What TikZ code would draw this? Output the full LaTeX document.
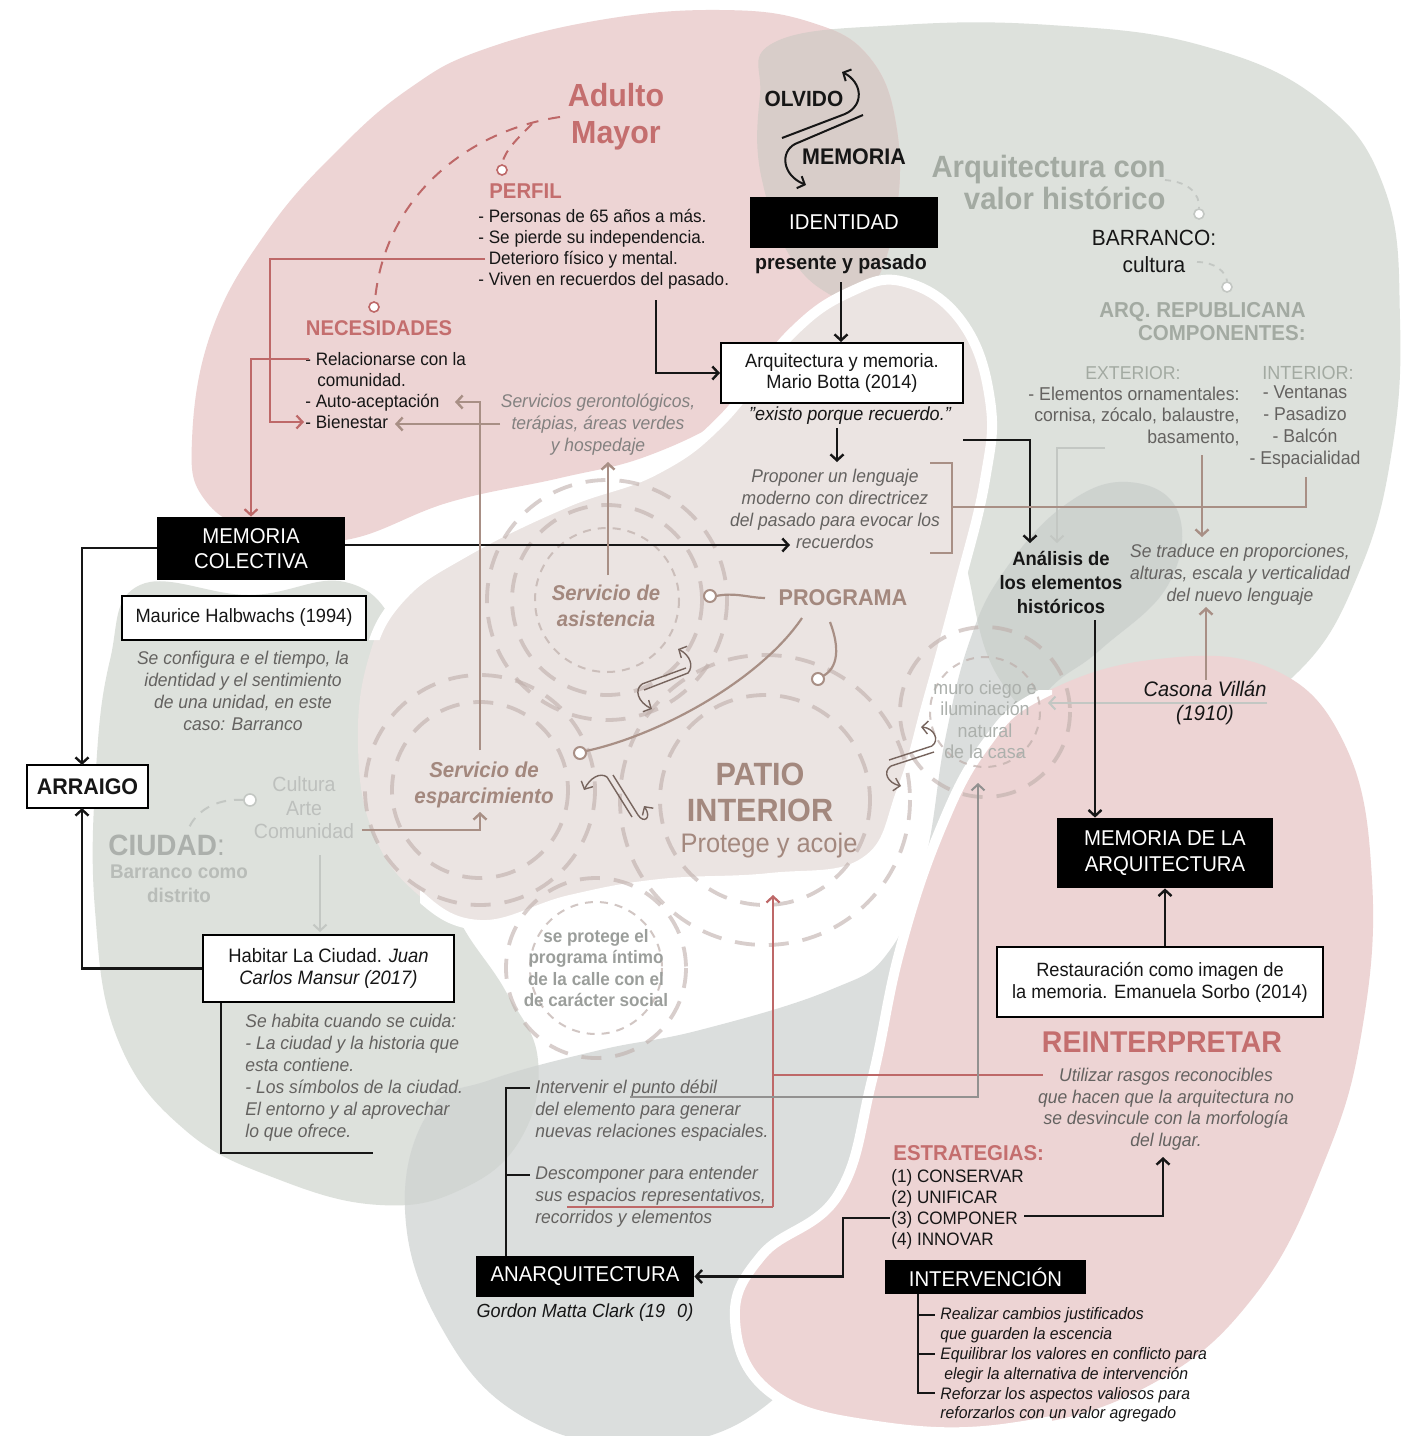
\documentclass[tikz,border=0pt]{standalone}
\usepackage{fontspec}
\setmainfont{Liberation Sans}[FakeStretch=0.95]
\usetikzlibrary{arrows.meta}
\definecolor{pinkbg}{RGB}{237,212,212}
\definecolor{greenbg}{RGB}{221,225,220}
\definecolor{patiobg}{RGB}{235,228,226}
\definecolor{greybg}{RGB}{219,222,221}
\definecolor{lensAB}{RGB}{216,205,201}
\definecolor{lensDB}{RGB}{206,211,207}
\definecolor{lensDE}{RGB}{210,214,211}
\definecolor{inkc}{RGB}{22,22,22}
\definecolor{redt}{RGB}{196,110,110}
\definecolor{greent}{RGB}{163,170,162}
\definecolor{brownt}{RGB}{163,136,126}
\definecolor{greyt}{RGB}{100,98,96}
\definecolor{paleg}{RGB}{172,176,172}
\definecolor{brownl}{RGB}{168,143,133}
\definecolor{redl}{RGB}{190,104,104}
\definecolor{ltl}{RGB}{195,199,195}
\definecolor{ringc}{RGB}{190,174,170}
\newcommand\myfs[2]{\fontsize{#1}{#2}\selectfont}
\def\blobA{plot[smooth cycle,tension=0.7] coordinates{(482,50) (600,20) (720,10) (810,22) (870,58) (897,130) (895,220) (868,295) (810,355) (740,410) (650,455) (560,478) (450,502) (345,540) (260,532) (205,500) (192,440) (212,330) (268,230) (340,148) (410,88)}}
\def\blobB{plot[smooth cycle,tension=0.7] coordinates{(775,42) (900,25) (1050,25) (1200,45) (1320,100) (1385,190) (1400,320) (1392,450) (1360,570) (1300,670) (1200,730) (1080,740) (1000,680) (965,560) (940,430) (880,330) (800,270) (762,180) (760,95)}}
\def\blobE{plot[smooth cycle,tension=0.7] coordinates{(140,585) (250,595) (345,582) (398,630) (425,720) (438,820) (455,910) (505,990) (538,1060) (520,1140) (460,1190) (380,1205) (280,1180) (185,1130) (118,1040) (95,910) (96,770) (110,660)}}
\def\blobD{plot[smooth cycle,tension=0.7] coordinates{(1128,482) (1178,512) (1168,585) (1100,650) (1040,700) (985,800) (950,910) (910,1030) (880,1160) (840,1300) (760,1410) (640,1445) (520,1415) (440,1325) (405,1210) (430,1110) (490,1080) (600,1050) (700,1030) (830,990) (890,950) (925,860) (945,740) (970,640) (1005,570) (1065,505)}}
\def\blobC{plot[smooth cycle,tension=0.7] coordinates{(1040,695) (1150,660) (1270,668) (1345,745) (1372,880) (1362,1030) (1325,1160) (1255,1295) (1150,1385) (1010,1428) (870,1425) (770,1392) (735,1320) (762,1255) (838,1195) (872,1080) (900,950) (940,830) (985,745)}}
\def\blobF{plot[smooth cycle,tension=0.7] coordinates{(905,282) (962,322) (990,400) (985,480) (958,590) (928,700) (902,790) (865,862) (770,878) (660,884) (570,900) (480,925) (415,892) (372,830) (358,745) (368,660) (400,598) (465,552) (565,503) (655,470) (722,420) (790,335) (850,292)}}
\begin{document}
\begin{tikzpicture}[x=0.5pt,y=-0.5pt,
  every node/.style={inner sep=0pt,align=center,text=inkc},
  body/.style={font=\myfs{9}{10.5}},
  ital/.style={font=\myfs{9.2}{11}\itshape,text=greyt},
  blk/.style={fill=black,text=white,font=\myfs{10.7}{12.5}},
  wbox/.style={draw=black,line width=1pt,fill=white},
  conn/.style={draw=inkc,line width=1.2pt},
  brn/.style={draw=brownl,line width=1.2pt},
  redc/.style={draw=redl,line width=1.1pt},
  palec/.style={draw=ltl,line width=1pt},
  arr/.style={-{Straight Barb[length=3pt,width=6.5pt]}},
  ring/.style={draw=ringc,line width=1.9pt,dash pattern=on 10pt off 7pt,draw opacity=0.6},
  ringt/.style={draw=ringc,line width=1pt,dash pattern=on 4pt off 3.5pt,draw opacity=0.7},
  dot/.style={fill=white,line width=0.8pt},
  swp/.style={draw=brownl!70!black,line width=0.7pt},
]
\useasboundingbox (0,0) rectangle (1415,1436);
\fill[white] (0,0) rectangle (1415,1436);
% ---------- background blobs
\fill[greenbg] \blobB;
\fill[pinkbg] \blobA;
\begin{scope}\clip \blobB; \fill[lensAB] \blobA; \end{scope}
\fill[greenbg] \blobE;
\fill[greybg] \blobD;
\begin{scope}\clip \blobD; \fill[lensDE] \blobE; \fill[lensDB] \blobB; \end{scope}
\fill[pinkbg] \blobC;
\begin{scope}\clip (0,690) rectangle (1052,1436); \draw[white,line width=5pt] \blobC; \end{scope}
\fill[patiobg] \blobF;
\begin{scope}\clip (0,0) -- (1415,0) -- (1415,1436) -- (420,1436) -- (420,640) -- (0,640) -- cycle;
\draw[white,line width=5pt] \blobF; \end{scope}
% ---------- dashed rings
\draw[ring] (607,600) circle[radius=95];
\draw[ring] (607,600) circle[radius=120];
\draw[ringt] (607,600) circle[radius=72];
\draw[ring] (480,790) circle[radius=88];
\draw[ring] (480,790) circle[radius=115];
\draw[ring] (765,800) circle[radius=105];
\draw[ring] (765,800) circle[radius=145];
\draw[ring] (985,712) circle[radius=85];
\draw[ringt] (985,712) circle[radius=55];
\draw[ring] (596,968) circle[radius=90];
\draw[ringt] (596,968) circle[radius=66];
% ---------- titles and texts
\node[font=\bfseries\myfs{16}{18.5},text=redt] (adulto) at (616,117) {Adulto\\Mayor};
\node[font=\bfseries\myfs{10.7}{12},text=redt,anchor=west] (perfil) at (489,191) {PERFIL};
\node[body,align=left,anchor=west] (perfillist) at (478,249) {- Personas de 65 años a más.\\- Se pierde su independencia.\\- Deterioro físico y mental.\\- Viven en recuerdos del pasado.};
\node[font=\bfseries\myfs{10.65}{12},text=redt] (neces) at (379,328) {NECESIDADES};
\node[body,align=left,anchor=west] (neceslist) at (305,391) {- Relacionarse con la\\\hspace*{6pt}comunidad.\\- Auto-aceptación\\- Bienestar};
\node[font=\bfseries\myfs{11}{12}] (olvido) at (804,99) {OLVIDO};
\node[font=\bfseries\myfs{11.3}{12}] (memoria) at (854,157) {MEMORIA};
\node[blk,minimum width=94pt,minimum height=25.5pt] (ident) at (844,222) {IDENTIDAD};
\node[font=\bfseries\myfs{10.3}{12}] (ppas) at (841,264) {presente y pasado};
\node[font=\bfseries\myfs{15.4}{16},text=greent,align=right,anchor=east] (arqval) at (1166,182) {Arquitectura con\\valor histórico};
\node[font=\myfs{11}{13.5}] (barranco) at (1154,251) {BARRANCO:\\cultura};
\node[font=\bfseries\myfs{10.8}{11.5},text=greent,align=right,anchor=east] (arqrep) at (1306,322) {ARQ. REPUBLICANA\\COMPONENTES:};
\node[font=\myfs{9.3}{10.5},text=greent] (ext) at (1133,373) {EXTERIOR:};
\node[font=\myfs{9.3}{10.75},text=greyt,align=right,anchor=east] (extlist) at (1240,416) {- Elementos ornamentales:\\cornisa, zócalo, balaustre,\\basamento,};
\node[font=\myfs{9.5}{10.5},text=greent] (int) at (1308,373) {INTERIOR:};
\node[font=\myfs{9.3}{11},text=greyt] (intlist) at (1305,427) {- Ventanas\\- Pasadizo\\- Balcón\\- Espacialidad};
\node[wbox,font=\myfs{9.6}{10.5},minimum width=121pt,minimum height=30pt] (botta) at (842,373) {Arquitectura y memoria.\\Mario Botta (2014)};
\node[font=\myfs{9.5}{11}\itshape] (existo) at (850,416) {"existo porque recuerdo."};
\node[ital] (proponer) at (835,509) {Proponer un lenguaje\\moderno con directricez\\del pasado para evocar los\\recuerdos};
\node[ital,text=greyt!80] (servicios) at (598,425) {Servicios gerontológicos,\\terápias, áreas verdes\\y hospedaje};
\node[blk,minimum width=94pt,minimum height=31.5pt] (memcol) at (251,548.5) {MEMORIA\\COLECTIVA};
\node[wbox,font=\myfs{9.6}{10.5},minimum width=122pt,minimum height=22pt] (halb) at (244,618) {Maurice Halbwachs (1994)};
\node[ital] (config) at (243,690.5) {Se configura e el tiempo, la\\identidad y el sentimiento\\de una unidad, en este\\caso: Barranco};
\node[wbox,line width=1.2pt,font=\bfseries\myfs{11.3}{13},minimum width=60.5pt,minimum height=21.5pt] (arraigo) at (87.5,786.5) {ARRAIGO};
\node[font=\myfs{10.3}{11.75},text=paleg!80] (cultura) at (304,808) {Cultura\\Arte\\Comunidad};
\node[font=\bfseries\myfs{14.7}{16},text=paleg,anchor=west] (ciudad) at (108,845) {CIUDAD\textmd{:}};
\node[font=\bfseries\myfs{9.9}{12},text=paleg!85] (barrdist) at (179,884) {Barranco como\\distrito};
\node[wbox,line width=1.2pt,font=\myfs{9.7}{11},minimum width=125.5pt,minimum height=33.5pt] (habitar) at (328.5,968.5) {Habitar La Ciudad. \textit{Juan}\\\textit{Carlos Mansur (2017)}};
\node[ital,align=left,anchor=west] (sehabita) at (245,1078) {Se habita cuando se cuida:\\- La ciudad y la historia que\\esta contiene.\\- Los símbolos de la ciudad.\\El entorno y al aprovechar\\lo que ofrece.};
\node[font=\bfseries\itshape\myfs{10.7}{13},text=brownt] (asist) at (606,606) {Servicio de\\asistencia};
\node[font=\bfseries\myfs{11.4}{13},text=brownt] (programa) at (843,598) {PROGRAMA};
\node[font=\bfseries\itshape\myfs{10.8}{13},text=brownt] (esparc) at (484,785) {Servicio de\\esparcimiento};
\node[font=\bfseries\myfs{16.1}{18},text=brownt] (patio) at (760,792) {PATIO\\INTERIOR};
\node[font=\myfs{13.4}{15},text=brownt] (protege) at (769,846) {Protege y acoje};
\node[font=\myfs{9.4}{10.75},text=paleg] (muro) at (985,720) {muro ciego e\\iluminación\\natural\\de la casa};
\node[font=\bfseries\myfs{9}{10.75},text=paleg!90!black] (seprot) at (596,968) {se protege el\\programa íntimo\\de la calle con el\\de carácter social};
\node[font=\bfseries\myfs{9.7}{12}] (analisis) at (1061,582) {Análisis de\\los elementos\\históricos};
\node[ital] (traduce) at (1240,575) {Se traduce en proporciones,\\alturas, escala y verticalidad\\del nuevo lenguaje};
\node[font=\myfs{10.5}{12}\itshape] (casona) at (1205,703) {Casona Villán\\(1910)};
\node[blk,minimum width=108pt,minimum height=35pt,font=\myfs{10.7}{13}] (memarq) at (1165,853) {MEMORIA DE LA\\ARQUITECTURA};
\node[wbox,line width=1.2pt,font=\myfs{9.6}{11},minimum width=163pt,minimum height=35pt] (resta) at (1160,982) {Restauración como imagen de\\la memoria. Emanuela Sorbo (2014)};
\node[font=\bfseries\myfs{15}{16},text=redt] (reint) at (1162,1042) {REINTERPRETAR};
\node[ital,font=\myfs{9.2}{10.75}\itshape] (utilizar) at (1166,1109) {Utilizar rasgos reconocibles\\que hacen que la arquitectura no\\se desvincule con la morfología\\del lugar.};
\node[font=\bfseries\myfs{10.75}{12},text=redt,anchor=west] (estrat) at (893,1153) {ESTRATEGIAS:};
\node[body,align=left,anchor=west] (estlist) at (891,1209) {(1) CONSERVAR\\(2) UNIFICAR\\(3) COMPONER\\(4) INNOVAR};
\node[blk,minimum width=100.5pt,minimum height=17pt] (interv) at (985.5,1277) {INTERVENCIÓN};
\node[font=\myfs{8.3}{9.9}\itshape,align=left,anchor=west] (intlist2) at (940,1365) {Realizar cambios justificados\\que guarden la escencia\\Equilibrar los valores en conflicto para\\\hspace*{2pt}elegir la alternativa de intervención\\Reforzar los aspectos valiosos para\\reforzarlos con un valor agregado};
\node[blk,minimum width=109pt,minimum height=20.5pt] (anarq) at (585,1276.5) {ANARQUITECTURA};
\node[font=\myfs{9.5}{11}\itshape] (gordon) at (585,1313) {Gordon Matta Clark (19\hspace{6pt}0)};
\node[ital,align=left,anchor=west] (intervenir) at (535,1111) {Intervenir el punto débil\\del elemento para generar\\nuevas relaciones espaciales.};
\node[ital,align=left,anchor=west] (descomp) at (535,1197) {Descomponer para entender\\sus espacios representativos,\\recorridos y elementos};
% ---------- connector end points
\coordinate (det) at (485,259);
\coordinate (bien) at (304,422);
\coordinate (rel) at (309,359);
\coordinate (viv) at (656,300);
\coordinate (exb) at (837,428);
\coordinate (prt) at (837,462);
\coordinate (botr) at (963,440);
\coordinate (ant) at (1030,543);
\coordinate (grs) at (1105,448);
\coordinate (grt) at (1057,543);
\coordinate (rec) at (790,545);
\coordinate (arrt) at (82,765);
\coordinate (arrb) at (82,808);
\coordinate (auto) at (455,402);
\coordinate (bien2) at (395,424);
\coordinate (serv) at (500,424);
\coordinate (espt) at (480,750);
\coordinate (asb) at (608,575);
\coordinate (hosp) at (608,462);
\coordinate (comu) at (362,830);
\coordinate (espb) at (480,812);
\coordinate (cult) at (320,855);
\coordinate (habt) at (320,932);
\coordinate (basa) at (1202,455);
\coordinate (trt) at (1202,537);
\coordinate (espa) at (1306,477);
\coordinate (casu) at (1206,680);
\coordinate (trb) at (1206,607);
\coordinate (casl) at (1267,703);
\coordinate (murr) at (1048,703);
\coordinate (anb) at (1095,620);
\coordinate (utl) at (1043,1075);
\coordinate (pati) at (773,895);
\coordinate (repr) at (567,1207);
\coordinate (punt) at (630,1097);
\coordinate (murb) at (978,783);
\coordinate (compl) at (890,1218);
\coordinate (compr) at (1024,1216);
\coordinate (lugar) at (1163,1157);
% ---------- connectors
\draw[redc,arr] (det) -- (270,259) -- (270,422) -- (bien);
\draw[redc,arr] (rel) -| (memcol.north);
\draw[conn,arr] (viv) |- (botta.west);
\draw[conn,arr] (ppas.south |- 0,282) -- (ppas.south |- botta.north);
\draw[conn,arr] (exb) -- (prt);
\draw[conn,arr] (botr) -| (ant);
\draw[palec,arr] (grs) -| (grt);
\draw[conn,arr] (memcol.east |- rec) -- (rec);
\draw[conn,arr] (memcol.west |- 0,548) -| (arrt);
\draw[conn,arr] (habitar.west) -| (arrb);
\draw[brn,arr] (espt) -- (480,402) -- (auto);
\draw[brn,arr] (serv) -- (bien2);
\draw[brn,arr] (asb) -- (hosp);
\draw[brn,arr] (comu) -| (espb);
\draw[palec,arr] (cult) -- (habt);
\draw[brn] (930,463) -- (952,463) -- (952,553) -- (930,553);
\draw[brn] (952,507) -| (espa);
\draw[brn,arr] (basa) -- (trt);
\draw[brn,arr] (casu) -- (trb);
\draw[palec,arr] (casl) -- (murr);
\draw[conn,arr] (anb) -- (anb |- memarq.north);
\draw[conn,arr] (resta.north -| memarq.south) -- (memarq.south);
\draw[redc,arr] (773,1207) -- (pati);
\draw[redc] (repr) -- (773,1207);
\draw[redc] (773,1075) -- (utl);
\draw[draw=greyt!70,line width=1pt,arr] (punt) -| (murb);
\draw[conn] (anarq.north -| 506,0) -- (506,1088) -- (530,1088);
\draw[conn] (506,1175) -- (530,1175);
\draw[conn,arr] (compl) -- (843,1218) |- (anarq.east);
\draw[conn,arr] (compr) -| (lugar);
\draw[conn] (interv.south -| 918,0) -- (918,1393) -- (935,1393);
\draw[conn] (918,1315) -- (935,1315);
\draw[conn] (918,1354) -- (935,1354);
\draw[conn] (habitar.south -| 221,0) -- (221,1153) -- (373,1153);
% ---------- dashed leaders
\draw[redl,line width=1pt,dash pattern=on 6pt off 5pt] (560,117) .. controls (470,130) and (385,195) .. (375,300);
\draw[redl,line width=1pt,dash pattern=on 5pt off 4pt] (532,124) .. controls (518,138) and (505,150) .. (502,164);
\draw[redl,dot] (374,307) circle[radius=5];
\draw[redl,dot] (502,170) circle[radius=5];
\draw[ltl,line width=0.9pt,dash pattern=on 3pt off 3pt] (1165,180) .. controls (1190,182) and (1200,195) .. (1199,208);
\draw[ltl,dot] (1199,214) circle[radius=5];
\draw[ltl,line width=0.9pt,dash pattern=on 3pt off 3pt] (1197,262) .. controls (1215,262) and (1226,272) .. (1227,281);
\draw[ltl,dot] (1227,287) circle[radius=5];
\draw[ltl,line width=1pt,dash pattern=on 5pt off 4pt] (244,800) .. controls (215,798) and (195,812) .. (188,830);
\draw[ltl,dot] (250,800) circle[radius=6];
% ---------- programa links
\draw[brownl,line width=1.1pt] (716,596) .. controls (735,592) and (750,598) .. (765,598);
\draw[brownl,dot,line width=1pt] (710,596) circle[radius=6];
\draw[brownl,line width=1.1pt] (802,618) .. controls (760,680) and (660,735) .. (586,751);
\draw[brownl,dot,line width=1pt] (580,753) circle[radius=6];
\draw[brownl,line width=1.1pt] (830,622) .. controls (840,648) and (838,668) .. (823,676);
\draw[brownl,dot,line width=1pt] (818,679) circle[radius=6];
% ---------- olvido / memoria
\draw[conn,line width=1pt,arr] (782,138) -- (845,114) .. controls (865,105) and (862,82) .. (842,72);
\draw[conn,line width=1pt,arr] (863,115) -- (795,144) .. controls (780,152) and (782,175) .. (806,185);
% ---------- swap symbols
\draw[swp] (642,684) -- (686,668);
\draw[swp,arr] (644,690) -- (688,673) .. controls (694,666) and (690,655) .. (678,649);
\draw[swp,arr] (642,684) .. controls (634,690) and (638,702) .. (652,709);
\draw[swp] (613,775) -- (638,815);
\draw[swp,arr] (638,815) .. controls (644,824) and (652,818) .. (644,806);
\draw[swp] (607,777) -- (632,817);
\draw[swp,arr] (607,777) .. controls (600,772) and (590,778) .. (584,790);
\draw[swp] (889,760) -- (932,746);
\draw[swp] (891,766) -- (934,752);
\draw[swp,arr] (932,746) .. controls (940,740) and (934,728) .. (921,727);
\draw[swp,arr] (891,766) .. controls (882,772) and (888,783) .. (901,786);
\end{tikzpicture}
\end{document}
